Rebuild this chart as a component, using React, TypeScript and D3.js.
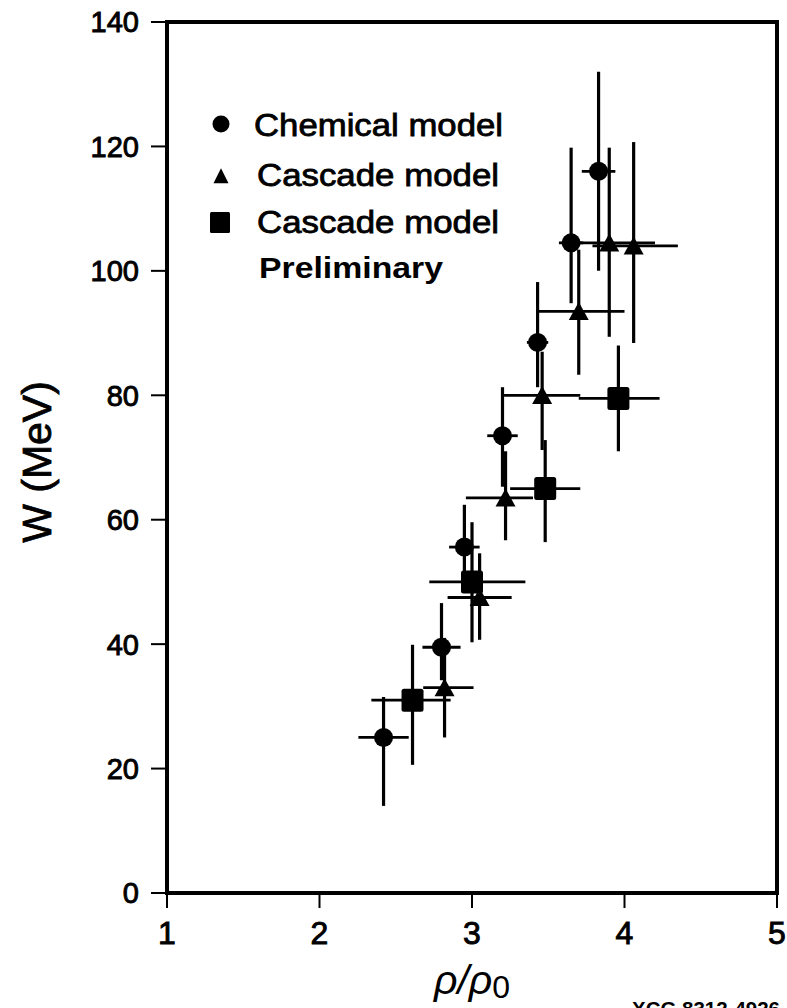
import React from 'react';
import * as d3 from 'd3';

// ---- axis ticks ----
const xTicks = [1, 2, 3, 4, 5];
const yTicks = [0, 20, 40, 60, 80, 100, 120, 140];

// ---- Chemical model (circles) ----
const chemX = [2.42, 2.8, 2.95, 3.2, 3.43, 3.65, 3.83];
const chemY = [25, 39.5, 55.6, 73.5, 88.5, 104.5, 116];
const chemXLo = [2.255, 2.675, 2.85, 3.1, 3.36, 3.57, 3.72];
const chemXHi = [2.585, 2.925, 3.05, 3.3, 3.5, 3.73, 3.94];
const chemYLo = [14, 34.2, 49, 65.3, 81.3, 94.8, 100];
const chemYHi = [31.5, 46.6, 62.4, 81.3, 98.2, 119.8, 132];

// ---- Cascade model (triangles) ----
const casX = [2.82, 3.05, 3.22, 3.46, 3.7, 3.9, 4.06];
const casY = [33, 47.5, 63.5, 80, 93.5, 104.5, 104];
const casXLo = [2.68, 2.84, 2.96, 3.21, 3.43, 3.6, 3.79];
const casXHi = [3.01, 3.26, 3.4, 3.71, 4.0, 4.2, 4.35];
const casYLo = [25, 40.7, 56.7, 71.2, 83.3, 89.4, 88.4];
const casYHi = [41, 54.6, 71, 87, 103.4, 119.8, 120.7];

// ---- Cascade model, preliminary (squares) ----
const preX = [2.61, 3.0, 3.48, 3.96];
const preY = [31, 50, 65, 79.5];
const preXLo = [2.34, 2.72, 3.25, 3.7];
const preXHi = [2.86, 3.35, 3.71, 4.23];
const preYLo = [20.6, 40.3, 56.4, 71];
const preYHi = [39.9, 59.6, 72.8, 88];

const legendLabels = ['Chemical model', 'Cascade model', 'Cascade model', 'Preliminary'];

const FONT = "'Liberation Sans', Arial, Helvetica, sans-serif";

export default function App() {
  const x = d3.scaleLinear().domain([1, 5]).range([167, 777]);
  const y = d3.scaleLinear().domain([0, 140]).range([893, 22]);

  const errBars = (
    xs: number[], ys: number[], xlo: number[], xhi: number[], ylo: number[], yhi: number[], key: string
  ) =>
    xs.map((xv, i) => (
      <g key={key + i} stroke="#000" fill="none">
        <line x1={x(xlo[i])} x2={x(xhi[i])} y1={y(ys[i])} y2={y(ys[i])} strokeWidth={2.8} />
        <line x1={x(xv)} x2={x(xv)} y1={y(ylo[i])} y2={y(yhi[i])} strokeWidth={3.2} />
      </g>
    ));

  const tri = (cx: number, cy: number, w: number, h: number) =>
    `M${cx},${cy - h * 0.52} L${cx + w / 2},${cy + h * 0.48} L${cx - w / 2},${cy + h * 0.48} Z`;

  return (
    <div style={{ position: 'absolute', left: 0, top: 0 }}>
      <svg width={787} height={1008} style={{ display: 'block', background: '#fff' }}>
        <rect x={0} y={0} width={787} height={1008} fill="#fff" />

        {/* ticks */}
        {yTicks.map((t) => (
          <g key={'yt' + t}>
            <line x1={151} x2={167} y1={y(t)} y2={y(t)} stroke="#000" strokeWidth={2} />
            <text x={139} y={y(t)} dy="0.36em" textAnchor="end" fontFamily={FONT} fontSize={29}
              stroke="#000" strokeWidth={0.9}>{t}</text>
          </g>
        ))}
        {xTicks.map((t) => (
          <g key={'xt' + t}>
            <line x1={x(t)} x2={x(t)} y1={893} y2={908} stroke="#000" strokeWidth={2} />
            <text x={x(t)} y={944} textAnchor="middle" fontFamily={FONT} fontSize={32}
              stroke="#000" strokeWidth={0.9}>{t}</text>
          </g>
        ))}

        {/* frame */}
        <rect x={x(1)} y={y(140)} width={x(5) - x(1)} height={y(0) - y(140)} fill="none" stroke="#000" strokeWidth={4} />

        {/* error bars */}
        {errBars(chemX, chemY, chemXLo, chemXHi, chemYLo, chemYHi, 'c')}
        {errBars(casX, casY, casXLo, casXHi, casYLo, casYHi, 't')}
        {errBars(preX, preY, preXLo, preXHi, preYLo, preYHi, 's')}

        {/* markers */}
        {chemX.map((xv, i) => (
          <circle key={'cm' + i} cx={x(xv)} cy={y(chemY[i])} r={9.5} fill="#000" />
        ))}
        {casX.map((xv, i) => (
          <path key={'tm' + i} d={tri(x(xv), y(casY[i]), 20, 18)} fill="#000" />
        ))}
        {preX.map((xv, i) => (
          <rect key={'sm' + i} x={x(xv) - 11} y={y(preY[i]) - 11.5} width={22} height={23} rx={2.5} fill="#000" />
        ))}

        {/* legend */}
        <circle cx={221} cy={124} r={8.5} fill="#000" />
        <path d={tri(221, 176, 15, 15)} fill="#000" />
        <rect x={210} y={212} width={20} height={21} rx={1.5} fill="#000" />
        <text x={254} y={136} fontFamily={FONT} fontSize={31} textLength={249} lengthAdjust="spacingAndGlyphs"
          stroke="#000" strokeWidth={0.8}>{legendLabels[0]}</text>
        <text x={257} y={186} fontFamily={FONT} fontSize={31} textLength={242} lengthAdjust="spacingAndGlyphs"
          stroke="#000" strokeWidth={0.8}>{legendLabels[1]}</text>
        <text x={257} y={233} fontFamily={FONT} fontSize={31} textLength={242} lengthAdjust="spacingAndGlyphs"
          stroke="#000" strokeWidth={0.8}>{legendLabels[2]}</text>
        <text x={259} y={278} fontFamily={FONT} fontSize={30} fontWeight="bold" textLength={184} lengthAdjust="spacingAndGlyphs">{legendLabels[3]}</text>

        {/* axis titles */}
        <text transform="translate(51,462) rotate(-90)" textAnchor="middle" fontFamily={FONT} fontSize={41}
          stroke="#000" strokeWidth={0.8}>W (MeV)</text>
        <text x={472} y={994} textAnchor="middle" fontFamily={FONT}>
          <tspan fontStyle="italic" fontSize={41}>ρ/ρ</tspan>
          <tspan fontSize={32} dy={4}>0</tspan>
        </text>

        <text x={632} y={1016} fontFamily={FONT} fontSize={20} fontWeight="bold" textLength={148} lengthAdjust="spacingAndGlyphs">XCG 8312-4926</text>
      </svg>
    </div>
  );
}
